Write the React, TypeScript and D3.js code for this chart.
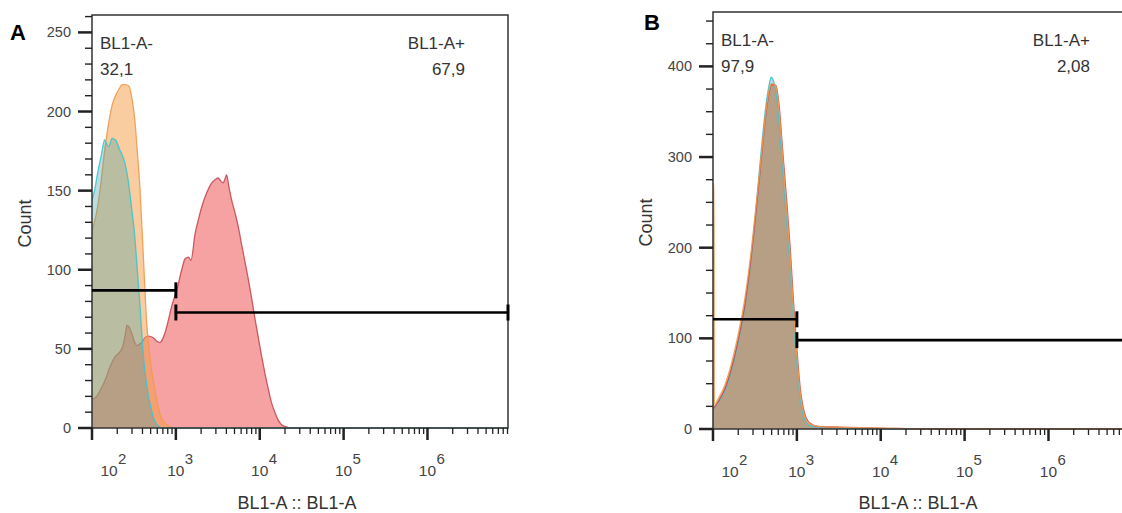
import React from 'react';
import * as d3 from 'd3';

// ---------- data ----------
const X_MIN = 100;
const X_MAX_EXP = 6.96;
const X_MAJOR_EXP = [2, 3, 4, 5, 6];
const GATE_SPLIT = 1000;

// panel A histograms: [log10(BL1-A), count]
const A_TEAL: [number, number][] = [
  [2.0, 144], [2.03, 150], [2.07, 162], [2.11, 172], [2.15, 182], [2.17, 180], [2.2, 178], [2.24, 183],
  [2.28, 182], [2.33, 176], [2.39, 168], [2.43, 157], [2.47, 140], [2.51, 121], [2.54, 100], [2.57, 79],
  [2.61, 47], [2.655, 26], [2.715, 10], [2.775, 2], [2.85, 0], [6.96, 0],
];
const A_ORANGE: [number, number][] = [
  [2.0, 125], [2.05, 135], [2.095, 150], [2.15, 175], [2.19, 190], [2.235, 203], [2.28, 210], [2.32, 214],
  [2.36, 217], [2.4, 217], [2.44, 216], [2.47, 210], [2.51, 195], [2.54, 175], [2.57, 153], [2.61, 111],
  [2.65, 68], [2.69, 45], [2.75, 24], [2.81, 9], [2.89, 2], [3.0, 0], [6.96, 0],
];
const A_RED: [number, number][] = [
  [2.0, 18], [2.056, 20], [2.1, 24], [2.155, 30], [2.21, 38], [2.274, 45], [2.33, 48], [2.37, 52],
  [2.4, 60], [2.417, 65], [2.44, 64], [2.473, 60], [2.51, 54], [2.536, 52], [2.565, 53], [2.592, 54],
  [2.63, 57], [2.671, 58], [2.731, 57], [2.77, 55], [2.81, 54], [2.84, 56], [2.87, 60], [2.91, 68],
  [2.95, 77], [3.01, 87], [3.07, 100], [3.11, 107], [3.15, 108], [3.18, 106], [3.23, 123], [3.27, 132],
  [3.31, 140], [3.37, 149], [3.43, 155], [3.47, 157], [3.505, 158], [3.535, 156], [3.565, 155], [3.59, 158],
  [3.605, 160], [3.63, 153], [3.665, 144], [3.705, 136], [3.745, 127], [3.78, 117], [3.82, 106], [3.86, 95],
  [3.9, 83], [3.94, 70], [3.98, 58], [4.02, 46], [4.06, 35], [4.1, 25], [4.14, 16], [4.18, 10],
  [4.22, 5], [4.26, 2], [4.3, 1], [4.38, 0], [6.96, 0],
];

// panel B histograms
const B_TEAL: [number, number][] = [
  [2.0, 22], [2.06, 29], [2.14, 42], [2.22, 65], [2.3, 96], [2.38, 136], [2.45, 186], [2.52, 250],
  [2.58, 312], [2.63, 356], [2.67, 380], [2.695, 388], [2.72, 384], [2.76, 366], [2.79, 336], [2.83, 288],
  [2.88, 228], [2.92, 178], [2.96, 120], [3.0, 72], [3.04, 34], [3.09, 12], [3.15, 4], [3.25, 2],
  [3.5, 1], [4.0, 0], [6.96, 0],
];
const B_ORANGE: [number, number][] = [
  [2.0, 270], [2.012, 270], [2.016, 26], [2.06, 33], [2.14, 48], [2.22, 72], [2.3, 104], [2.38, 144],
  [2.45, 192], [2.52, 252], [2.58, 306], [2.63, 350], [2.67, 374], [2.7, 381], [2.75, 378], [2.79, 350],
  [2.83, 300], [2.88, 240], [2.92, 190], [2.96, 130], [3.0, 80], [3.04, 40], [3.09, 15], [3.15, 6],
  [3.25, 3], [3.5, 2], [4.0, 1], [4.6, 0], [6.96, 0],
];
const B_RED: [number, number][] = [
  [2.0, 22], [2.06, 30], [2.14, 44], [2.22, 67], [2.3, 98], [2.38, 137], [2.45, 186], [2.52, 246],
  [2.58, 302], [2.63, 347], [2.67, 372], [2.7, 380], [2.75, 379], [2.79, 355], [2.83, 308], [2.88, 250],
  [2.92, 200], [2.96, 140], [3.0, 88], [3.04, 45], [3.09, 18], [3.15, 7], [3.25, 3], [3.5, 2],
  [4.0, 1], [4.6, 0], [6.96, 0],
];

const A_Y_MAX = 261;
const B_Y_MAX = 460;
const A_GATE_NEG_Y = 87;
const A_GATE_POS_Y = 73;
const B_GATE_NEG_Y = 121;
const B_GATE_POS_Y = 98;
const A_GATE_TEXT = ['BL1-A-', '32,1', 'BL1-A+', '67,9'];
const B_GATE_TEXT = ['BL1-A-', '97,9', 'BL1-A+', '2,08'];
const Y_TITLE = 'Count';
const X_TITLE = 'BL1-A :: BL1-A';

// ---------- styles ----------
const FONT = '"Liberation Sans", Arial, Helvetica, sans-serif';
const RED = { fill: 'rgb(240,70,70)', op: 0.5, stroke: '#c44a55' };
const ORANGE = { fill: 'rgb(245,155,65)', op: 0.5, stroke: '#f09a50' };
const TEAL = { fill: 'rgb(70,160,165)', op: 0.36, stroke: '#3cc4d0' };

type Series = { data: [number, number][]; fill: string; op: number; stroke: string };

type PanelProps = {
  id: string;
  letter: string;
  letterX: number;
  letterY: number;
  left: number;
  right: number;
  top: number;
  bottom: number;
  yMax: number;
  yMajor: number;
  yMinor: number;
  series: Series[];
  strokeOrder: number[] | null;
  gateNeg: number;
  gatePos: number;
  texts: string[];
  textLeftX: number;
  textRightX: number;
};

function Panel(p: PanelProps) {
  const x = d3.scaleLog().domain([X_MIN, Math.pow(10, X_MAX_EXP)]).range([p.left, p.right]);
  const y = d3.scaleLinear().domain([0, p.yMax]).range([p.bottom, p.top]);
  const area = d3
    .area<[number, number]>()
    .x((d) => x(Math.pow(10, d[0])))
    .y0(y(0))
    .y1((d) => y(d[1]))
    .curve(d3.curveMonotoneX);
  const line = d3
    .line<[number, number]>()
    .x((d) => x(Math.pow(10, d[0])))
    .y((d) => y(d[1]))
    .curve(d3.curveMonotoneX);

  const xTicks = x.ticks();
  const yTicks = d3.range(0, p.yMax + 0.001, p.yMinor);
  const xMax = Math.pow(10, X_MAX_EXP);

  const gates = [
    { y: p.gateNeg, x0: X_MIN, x1: GATE_SPLIT, capStart: false },
    { y: p.gatePos, x0: GATE_SPLIT, x1: xMax, capStart: true },
  ];

  const strokePath = (s: Series, key: string) => (
    <path key={key} d={line(s.data) || ''} fill="none" stroke={s.stroke} strokeWidth={1.3} strokeOpacity={0.9} />
  );

  return (
    <g>
      <defs>
        <clipPath id={`clip-${p.id}`}>
          <rect x={p.left} y={p.top} width={p.right - p.left} height={p.bottom - p.top + 1} />
        </clipPath>
      </defs>
      <g clipPath={`url(#clip-${p.id})`}>
        {p.series.map((s, i) => (
          <g key={i}>
            <path d={area(s.data) || ''} fill={s.fill} fillOpacity={s.op} />
            {!p.strokeOrder && strokePath(s, 's' + i)}
          </g>
        ))}
        {p.strokeOrder && p.strokeOrder.map((k) => strokePath(p.series[k], 'so' + k))}
      </g>
      {/* frame */}
      <rect x={p.left} y={p.top} width={p.right - p.left} height={p.bottom - p.top} fill="none" stroke="#333" strokeWidth={1.5} />
      {/* y ticks */}
      {yTicks.map((t) => {
        const major = Math.abs(t % p.yMajor) < 1e-6;
        return (
          <g key={'y' + t}>
            <line x1={p.left - (major ? 14 : 7)} x2={p.left} y1={y(t)} y2={y(t)} stroke="#222" strokeWidth={major ? 2.5 : 1.4} />
            {major && (
              <text x={p.left - 21} y={y(t) + 5} textAnchor="end" fontSize={14.5} fill="#444" fontFamily={FONT}>
                {t}
              </text>
            )}
          </g>
        );
      })}
      {/* x ticks */}
      {xTicks.map((t, i) => {
        const e = Math.log10(t);
        const major = Math.abs(e - Math.round(e)) < 1e-6;
        return (
          <line key={'x' + i} x1={x(t)} x2={x(t)} y1={p.bottom} y2={p.bottom + (major ? 12 : 6)} stroke="#222" strokeWidth={major ? 2.5 : 1.3} />
        );
      })}
      {X_MAJOR_EXP.map((e) => {
        const tx = Math.max(x(Math.pow(10, e)), p.left + 17);
        return (
          <g key={'xl' + e} fontFamily={FONT} fill="#444">
            <text x={tx} y={p.bottom + 48} textAnchor="middle" fontSize={15.5}>
              10
            </text>
            <text x={tx + 9} y={p.bottom + 36} textAnchor="start" fontSize={15}>
              {e}
            </text>
          </g>
        );
      })}
      {/* gates */}
      {gates.map((g, i) => (
        <g key={'g' + i} stroke="#000">
          <line x1={x(g.x0)} x2={x(g.x1)} y1={y(g.y)} y2={y(g.y)} strokeWidth={2.6} />
          {g.capStart && <line x1={x(g.x0)} x2={x(g.x0)} y1={y(g.y) - 8} y2={y(g.y) + 8} strokeWidth={3} />}
          <line x1={x(g.x1)} x2={x(g.x1)} y1={y(g.y) - 8} y2={y(g.y) + 8} strokeWidth={3} />
        </g>
      ))}
      {/* gate labels */}
      <g fontFamily={FONT} fontSize={17} fill="#333">
        <text x={p.textLeftX} y={p.top + 34}>{p.texts[0]}</text>
        <text x={p.textLeftX} y={p.top + 60}>{p.texts[1]}</text>
        <text x={p.textRightX} y={p.top + 34} textAnchor="end">{p.texts[2]}</text>
        <text x={p.textRightX} y={p.top + 60} textAnchor="end">{p.texts[3]}</text>
      </g>
      {/* axis titles */}
      <text
        transform={`translate(${p.left - 61},${(p.top + p.bottom) / 2 + 2}) rotate(-90)`}
        textAnchor="middle"
        fontFamily={FONT}
        fontSize={18}
        fill="#333"
      >
        {Y_TITLE}
      </text>
      <text x={(p.left + p.right) / 2 - 3} y={509} textAnchor="middle" fontFamily={FONT} fontSize={18} fill="#333">
        {X_TITLE}
      </text>
      <text x={p.letterX} y={p.letterY} fontFamily={FONT} fontWeight="bold" fontSize={22} fill="#000">
        {p.letter}
      </text>
    </g>
  );
}

export default function App() {
  const seriesA: Series[] = [
    { data: A_RED, ...RED },
    { data: A_ORANGE, ...ORANGE },
    { data: A_TEAL, ...TEAL },
  ];
  const seriesB: Series[] = [
    { data: B_RED, ...RED },
    { data: B_ORANGE, ...ORANGE },
    { data: B_TEAL, ...TEAL },
  ];
  return (
    <div style={{ position: 'absolute', left: 0, top: 0 }}>
      <svg width={1122} height={513} style={{ display: 'block', background: '#fff' }}>
        <Panel
          id="A"
          letter="A"
          letterX={10}
          letterY={40}
          left={92}
          right={508}
          top={15}
          bottom={428}
          yMax={A_Y_MAX}
          yMajor={50}
          yMinor={10}
          series={seriesA}
          strokeOrder={null}
          gateNeg={A_GATE_NEG_Y}
          gatePos={A_GATE_POS_Y}
          texts={A_GATE_TEXT}
          textLeftX={100}
          textRightX={465}
        />
        <Panel
          id="B"
          letter="B"
          letterX={644}
          letterY={30}
          left={713}
          right={1129}
          top={12}
          bottom={429}
          yMax={B_Y_MAX}
          yMajor={100}
          yMinor={25}
          series={seriesB}
          strokeOrder={[2, 0, 1]}
          gateNeg={B_GATE_NEG_Y}
          gatePos={B_GATE_POS_Y}
          texts={B_GATE_TEXT}
          textLeftX={721}
          textRightX={1090}
        />
      </svg>
    </div>
  );
}
